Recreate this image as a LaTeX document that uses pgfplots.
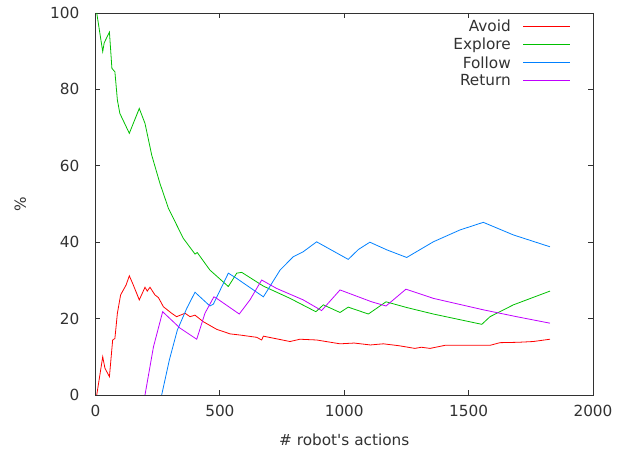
\documentclass[border=0pt]{standalone}
\usepackage{fontspec}
\setmainfont{DejaVu Sans}
\usepackage{pgfplots}
\pgfplotsset{compat=1.18}
\definecolor{txt}{RGB}{50,50,50}
\definecolor{cAvoid}{RGB}{255,0,0}
\definecolor{cExplore}{RGB}{0,192,0}
\definecolor{cFollow}{RGB}{0,128,255}
\definecolor{cReturn}{RGB}{192,0,255}
\begin{document}
\begin{tikzpicture}
\begin{axis}[
  at={(0,0)}, anchor=south west,
  scale only axis, width=497.5bp, height=382bp,
  xmin=0, xmax=2000, ymin=0, ymax=100,
  xtick={0,500,...,2000}, ytick={0,20,...,100},
  minor tick num=0,
  scaled x ticks=false,
  /pgf/number format/assume math mode=true,
  /pgf/number format/set thousands separator={},
  axis line style={txt, line width=0.8bp},
  major tick length=5bp,
  every tick/.style={txt, line width=0.8bp},
  font=\fontsize{15.3bp}{18bp}\selectfont,
  tick label style={txt, inner sep=0pt},
  xticklabel style={anchor=north, yshift=-9.5bp},
  yticklabel style={anchor=east, xshift=-16bp},
  xlabel={\# robot\textquotesingle s actions},
  ylabel={\%},
  every axis x label/.style={at={(axis description cs:0.5,-0.1178)}, anchor=center, txt},
  every axis y label/.style={at={(axis description cs:-0.151,0.5)}, anchor=center, rotate=90, txt},
  legend plot pos=right,
  legend cell align=right,
  legend image code/.code={\draw[#1,mark=none,line width=1bp] (0bp,0bp) -- (47bp,0bp);},
  legend style={draw=none, fill=none, at={(1,1)}, anchor=north east, xshift=-22bp, yshift=-6bp,
    text=txt, row sep=3bp, column sep=11bp, inner sep=0pt, nodes={inner sep=1bp}},
  every axis plot/.append style={line width=0.8bp},
]
\addplot[cAvoid] coordinates {
(5,0)(29,10)(38,7)(56,4.8)(69,14.4)(78,14.8)(88,21.4)(101,26.2)(123,28.8)(136,31.2)(152,28.8)(176,24.9)(199,28.2)(208,27.2)(219,28.2)(239,26.2)(253,25.5)(273,23.1)(306,21.4)(326,20.5)(360,21.4)(380,20.5)(400,20.9)(433,19.2)(487,17.2)(541,16)(581,15.7)(648,15.1)(668,14.4)(675,15.4)(782,14)(822,14.6)(889,14.4)(983,13.4)(1040,13.6)(1105,13.1)(1157,13.4)(1220,12.9)(1284,12.2)(1310,12.5)(1345,12.2)(1405,13)(1586,13)(1626,13.7)(1700,13.8)(1760,14)(1827,14.6)
};
\addlegendentry{Avoid}
\addplot[cExplore] coordinates {
(5,100)(29,89.9)(35,92.2)(56,95)(66,85.5)(78,84.6)(88,77.2)(98,73.7)(136,68.5)(176,75)(199,71.1)(226,62.8)(259,55.4)(293,48.9)(353,41)(400,36.9)(409,37.3)(460,32.7)(534,28.4)(568,31.9)(588,32.1)(675,28.5)(782,25.3)(886,21.8)(916,23.6)(983,21.6)(1016,23)(1097,21.2)(1168,24.4)(1251,22.9)(1358,21.2)(1553,18.5)(1586,20.5)(1680,23.6)(1827,27.2)
};
\addlegendentry{Explore}
\addplot[cFollow] coordinates {
(266,0)(297,9.2)(329,17)(367,22.7)(400,26.9)(460,23.3)(474,23.8)(534,31.9)(568,30.5)(675,25.7)(742,32.7)(795,36.2)(835,37.5)(889,40.1)(1016,35.5)(1057,38.1)(1103,40)(1171,38)(1251,36)(1358,40.1)(1465,43.2)(1559,45.2)(1680,41.9)(1827,38.8)
};
\addlegendentry{Follow}
\addplot[cReturn] coordinates {
(199,0)(233,12.6)(270,21.8)(340,17.5)(407,14.6)(440,21.4)(476,25.7)(487,25.3)(578,21.2)(621,24.9)(668,30.1)(728,27.9)(835,24.9)(909,22.1)(983,27.5)(1110,24.4)(1168,23.3)(1248,27.7)(1358,25.3)(1559,22.3)(1693,20.5)(1827,18.8)
};
\addlegendentry{Return}
\end{axis}
\pgfresetboundingbox
\path (-95.5bp,-55bp) rectangle (525.5bp,395bp);
\end{tikzpicture}
\end{document}
